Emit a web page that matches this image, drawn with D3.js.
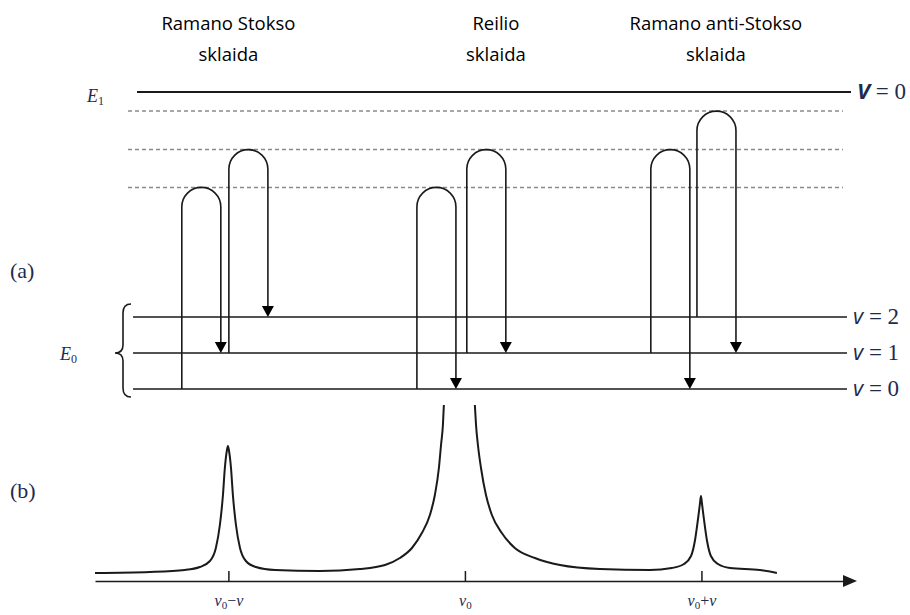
<!DOCTYPE html>
<html>
<head>
<meta charset="utf-8">
<script src="https://cdn.jsdelivr.net/npm/d3@7"></script>
<style>
  body { margin: 0; background: #fff; }
  svg { display: block; }
</style>
</head>
<body>
<div id="chart"></div>
<script>
// energy levels (arbitrary energy units)
const groundLevels = [0, 1, 2];
const groundLabels = ["0", "1", "2"];
const virtualLevels = [5.6, 6.65, 7.72];
const upperLevel = 8.25;

// top captions
const groupLines = [["Ramano Stokso", "sklaida"], ["Reilio", "sklaida"], ["Ramano anti-Stokso", "sklaida"]];
const groupX = [-1.0, 0.131, 1.061];

// transitions: x of the upward leg (shift units), start level, virtual level, end level
const transX = [-1.197, -0.998, -0.203, 0.008, 0.786, 0.981];
const transFrom = [0, 1, 0, 1, 1, 2];
const transVirtual = [0, 1, 0, 1, 1, 2];
const transTo = [1, 2, 0, 1, 0, 1];

// spectrum (shift, intensity), split at the clipped Rayleigh peak
const spectrumLeft = [
  [-1.564, 0.040], [-1.332, 0.045], [-1.184, 0.055], [-1.121, 0.070], [-1.078, 0.100],
  [-1.053, 0.165], [-1.036, 0.280], [-1.023, 0.430], [-1.015, 0.565], [-1.006, 0.655],
  [-1.002, 0.675], [-0.998, 0.655], [-0.989, 0.565], [-0.981, 0.430], [-0.968, 0.280],
  [-0.951, 0.165], [-0.926, 0.100], [-0.884, 0.070], [-0.803, 0.055], [-0.613, 0.050],
  [-0.444, 0.060], [-0.338, 0.080], [-0.275, 0.115], [-0.224, 0.165], [-0.182, 0.240],
  [-0.148, 0.330], [-0.127, 0.430], [-0.110, 0.565], [-0.101, 0.680], [-0.093, 0.780],
  [-0.089, 0.880]
];
const spectrumRight = [
  [0.042, 0.880], [0.047, 0.780], [0.055, 0.680], [0.068, 0.565], [0.089, 0.430],
  [0.114, 0.330], [0.156, 0.240], [0.211, 0.165], [0.296, 0.115], [0.402, 0.080],
  [0.571, 0.060], [0.782, 0.055], [0.875, 0.065], [0.926, 0.085], [0.956, 0.125],
  [0.973, 0.205], [0.985, 0.305], [0.994, 0.390], [0.998, 0.425], [1.002, 0.390],
  [1.011, 0.305], [1.023, 0.205], [1.040, 0.125], [1.070, 0.085], [1.121, 0.065],
  [1.247, 0.055], [1.319, 0.040]
];
const tickValues = [-1, 0, 1];
const tickSigns = ["\u2212", "", "+"];

const width = 910, height = 615;
const ink = "#1a1a1a";
const labelColor = "#1d2b4f";

const svg = d3.select("#chart").append("svg")
  .attr("width", width)
  .attr("height", height);

const x = d3.scaleLinear().domain([-1.564, 1.607]).range([95, 845]);
const yE = d3.scaleLinear().domain([0, upperLevel]).range([389, 92]);
const yS = d3.scaleLinear().domain([0, 1]).range([581, 381]);

// captions
groupLines.forEach(function(lines, i) {
  let t = svg.append("text")
    .attr("x", x(groupX[i]))
    .attr("y", 30)
    .attr("text-anchor", "middle")
    .style("font-family", "'Open Sans', sans-serif")
    .style("font-size", "18.5px")
    .attr("fill", "#000");
  lines.forEach(function(l, j) {
    t.append("tspan").attr("x", x(groupX[i])).attr("dy", j ? 31 : 0).text(l);
  });
});

// E1 level
svg.append("line")
  .attr("x1", 137).attr("x2", 851)
  .attr("y1", yE(upperLevel)).attr("y2", yE(upperLevel))
  .attr("stroke", ink).attr("stroke-width", 2);

// virtual levels
svg.selectAll(".virtual")
  .data(virtualLevels)
  .enter().append("line")
  .attr("class", "virtual")
  .attr("x1", 128).attr("x2", 843)
  .attr("y1", d => yE(d)).attr("y2", d => yE(d))
  .attr("stroke", "#8a8a8a").attr("stroke-width", 1.5)
  .attr("stroke-dasharray", "4,3");

// ground vibrational levels
svg.selectAll(".ground")
  .data(groundLevels)
  .enter().append("line")
  .attr("class", "ground")
  .attr("x1", 133).attr("x2", 847)
  .attr("y1", d => yE(d)).attr("y2", d => yE(d))
  .attr("stroke", ink).attr("stroke-width", 1.6);

// level labels on the right
function vLabel(xp, yp, num, upper) {
  let t = svg.append("text")
    .attr("x", xp).attr("y", yp + 7)
    .style("font-size", "22px")
    .attr("fill", labelColor);
  t.append("tspan")
    .style("font-family", "'Open Sans', sans-serif")
    .style("font-style", "italic")
    .style("font-weight", upper ? "bold" : "normal")
    .text(upper ? "V" : "v");
  t.append("tspan")
    .style("font-family", "'Liberation Serif', serif")
    .style("font-size", "23px")
    .text(" = " + num);
}
vLabel(857, yE(upperLevel), "0", true);
groundLevels.forEach(function(d, i) {
  vLabel(853, yE(d), groundLabels[i], false);
});

// E labels
function eLabel(xp, yp, sub) {
  let t = svg.append("text")
    .attr("x", xp).attr("y", yp)
    .style("font-family", "'Liberation Serif', serif")
    .style("font-style", "italic")
    .style("font-size", "18px")
    .attr("fill", labelColor);
  t.append("tspan").text("E");
  t.append("tspan").attr("dy", 3).style("font-size", "12px").style("font-style", "normal").text(sub);
}
eLabel(87, 102, "1");
eLabel(60, 360, "0");

// panel labels
[["(a)", 278], ["(b)", 498]].forEach(function(p) {
  svg.append("text")
    .attr("x", 10).attr("y", p[1])
    .style("font-family", "'Liberation Serif', serif")
    .style("font-size", "22px")
    .attr("fill", labelColor)
    .text(p[0]);
});

// brace around E0 levels
let bTop = yE(2) - 13, bBot = yE(0) + 8, bMid = yE(1), bx = 131, bw = 8;
svg.append("path")
  .attr("d", "M" + bx + "," + bTop +
    " Q" + (bx - bw) + "," + bTop + " " + (bx - bw) + "," + (bTop + 9) +
    " L" + (bx - bw) + "," + (bMid - 8) +
    " Q" + (bx - bw) + "," + bMid + " " + (bx - 2 * bw) + "," + bMid +
    " Q" + (bx - bw) + "," + bMid + " " + (bx - bw) + "," + (bMid + 8) +
    " L" + (bx - bw) + "," + (bBot - 9) +
    " Q" + (bx - bw) + "," + bBot + " " + bx + "," + bBot)
  .attr("fill", "none").attr("stroke", ink).attr("stroke-width", 1.6);

// transitions
let loopW = x(0.165) - x(0);
let r = loopW / 2;
let arrowH = 11, arrowW = 6;
transX.forEach(function(tx, i) {
  let x0 = x(tx), x1 = x0 + loopW;
  let yTop = yE(virtualLevels[transVirtual[i]]);
  let yStart = yE(transFrom[i]);
  let yEnd = yE(transTo[i]);
  svg.append("path")
    .attr("d", "M" + x0 + "," + yStart + " L" + x0 + "," + (yTop + r) +
      " A" + r + "," + r + " 0 0 1 " + x1 + "," + (yTop + r) +
      " L" + x1 + "," + (yEnd - arrowH))
    .attr("fill", "none").attr("stroke", ink).attr("stroke-width", 1.6);
  svg.append("path")
    .attr("d", "M" + (x1 - arrowW) + "," + (yEnd - arrowH) + " L" + (x1 + arrowW) + "," + (yEnd - arrowH) +
      " L" + x1 + "," + yEnd + " Z")
    .attr("fill", "#000");
});

// spectrum
let line = d3.line()
  .curve(d3.curveMonotoneX)
  .x(d => x(d[0]))
  .y(d => yS(d[1]));
[spectrumLeft, spectrumRight].forEach(function(seg) {
  svg.append("path")
    .datum(seg)
    .attr("d", line)
    .attr("fill", "none").attr("stroke", ink).attr("stroke-width", 2);
});

// frequency axis
let axis = svg.append("g")
  .attr("transform", "translate(0," + yS(0) + ")")
  .call(d3.axisBottom(x).tickValues(tickValues).tickSize(-10).tickSizeOuter(0).tickPadding(14));
axis.select(".domain").attr("stroke", ink).attr("stroke-width", 1.6);
axis.selectAll(".tick line").attr("stroke", ink).attr("stroke-width", 1.5);
axis.selectAll(".tick text").each(function(d, i) {
  let t = d3.select(this);
  t.text(null)
    .style("font-family", "'Liberation Serif', serif")
    .style("font-style", "italic")
    .style("font-size", "16px")
    .attr("fill", labelColor);
  t.append("tspan").text("\u03bd");
  t.append("tspan").attr("dy", 3).style("font-size", "11px").style("font-style", "normal").text("0");
  if (tickSigns[i]) {
    t.append("tspan").attr("dy", -3).style("font-style", "normal").text(tickSigns[i]);
    t.append("tspan").text("\u03bd");
  }
});
svg.append("path")
  .attr("d", "M" + (x.range()[1] - 2) + "," + (yS(0) - 6) + " L" + (x.range()[1] + 12) + "," + yS(0) +
    " L" + (x.range()[1] - 2) + "," + (yS(0) + 6) + " Z")
  .attr("fill", ink);
</script>
</body>
</html>
